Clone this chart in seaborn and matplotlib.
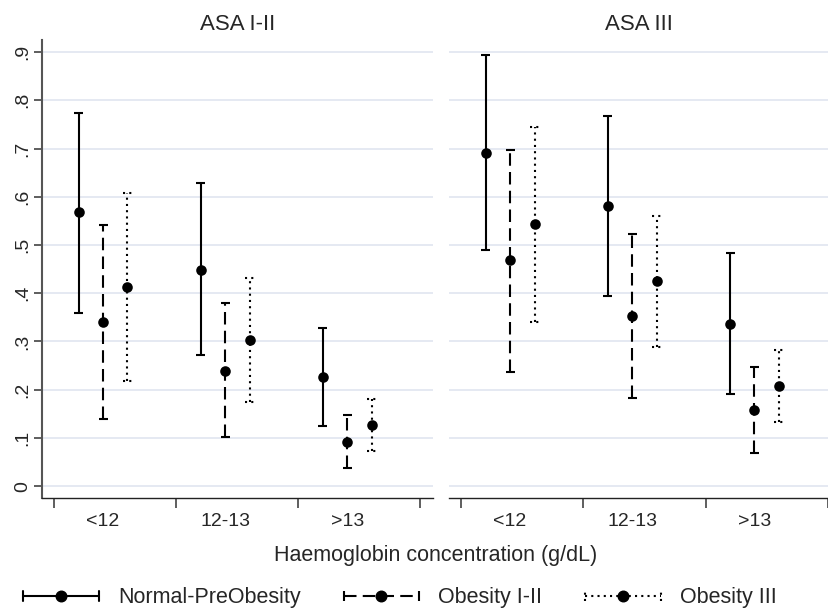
import numpy as np
import pandas as pd
import matplotlib
matplotlib.use("Agg")
import matplotlib.pyplot as plt
import seaborn as sns
from matplotlib.lines import Line2D
from matplotlib.legend_handler import HandlerBase

# Categorias y series
groups = ["<12", "12-13", ">13"]
series = ["Normal-PreObesity", "Obesity I-II", "Obesity III"]
panels = ["ASA I-II", "ASA III"]

# filas = series, columnas = grupos de hemoglobina
asa12_est = [[0.568, 0.449, 0.227], [0.341, 0.239, 0.091], [0.412, 0.302, 0.127]]
asa12_lo = [[0.359, 0.272, 0.124], [0.140, 0.101, 0.038], [0.218, 0.174, 0.073]]
asa12_hi = [[0.774, 0.628, 0.328], [0.541, 0.379, 0.147], [0.607, 0.431, 0.180]]

asa3_est = [[0.691, 0.581, 0.336], [0.469, 0.353, 0.158], [0.543, 0.425, 0.208]]
asa3_lo = [[0.489, 0.395, 0.191], [0.237, 0.182, 0.068], [0.341, 0.289, 0.133]]
asa3_hi = [[0.894, 0.767, 0.483], [0.697, 0.523, 0.247], [0.745, 0.560, 0.283]]

y_ticks = [0, 0.1, 0.2, 0.3, 0.4, 0.5, 0.6, 0.7, 0.8, 0.9]
y_tick_labels = ["0", ".1", ".2", ".3", ".4", ".5", ".6", ".7", ".8", ".9"]

# Estilo
sns.set_theme(style="white")
plt.rcParams["font.family"] = ["Liberation Sans", "DejaVu Sans"]

offsets = [-0.2, 0.0, 0.2]
line_styles = ["-", (0, (6, 3)), (0, (1, 2))]
cap_w = 0.037
lw = 1.5

rows = []
for panel, est, lo, hi in [(panels[0], asa12_est, asa12_lo, asa12_hi),
                           (panels[1], asa3_est, asa3_lo, asa3_hi)]:
    for si, s in enumerate(series):
        for gi, g in enumerate(groups):
            rows.append({"panel": panel, "serie": s, "grupo": g,
                         "x": gi + 1 + offsets[si],
                         "est": est[si][gi], "lo": lo[si][gi], "hi": hi[si][gi]})
df = pd.DataFrame(rows)

W, H = 829, 611
fig = plt.figure(figsize=(W / 100, H / 100), dpi=100)
bottom = 1 - 497.7 / H
height = (497.7 - 40) / H
ax1 = fig.add_axes([42 / W, bottom, 390.7 / W, height])
ax2 = fig.add_axes([449 / W, bottom, 380 / W, height], sharey=ax1)

for ax, panel in zip([ax1, ax2], panels):
    sub = df[df["panel"] == panel]
    for si, s in enumerate(series):
        d = sub[sub["serie"] == s]
        ls = line_styles[si]
        ax.vlines(d["x"], d["lo"], d["hi"], colors="black", linestyles=ls, lw=lw, zorder=2)
        ax.hlines(d["lo"], d["x"] - cap_w, d["x"] + cap_w, colors="black", linestyles=ls, lw=lw, zorder=2)
        ax.hlines(d["hi"], d["x"] - cap_w, d["x"] + cap_w, colors="black", linestyles=ls, lw=lw, zorder=2)
    sns.scatterplot(data=sub, x="x", y="est", color="black", s=58, edgecolor="black",
                    linewidth=0, legend=False, ax=ax, zorder=3)

    ax.set_xlim(0.5, 3.7 if ax is ax1 else 3.61)
    ax.set_ylim(-0.024, 0.925)
    ax.set_xticks([0.6, 1.6, 2.6, 3.6])
    ax.set_xticklabels([])
    ax.set_xticks([1, 2, 3], minor=True)
    ax.set_xticklabels(groups, minor=True, fontsize=14)
    ax.tick_params(axis="x", which="major", direction="out", length=7.5, width=1.1,
                   color="#333333", bottom=True)
    ax.tick_params(axis="x", which="minor", length=0, pad=11, bottom=True)
    ax.set_xlabel("")
    ax.set_ylabel("")
    ax.set_title(panel, fontsize=16, pad=7)
    ax.yaxis.grid(True, color="#e3e7f1", lw=1.3)
    ax.xaxis.grid(False)
    for side in ["top", "right", "left"]:
        ax.spines[side].set_visible(False)
    ax.spines["bottom"].set_color("#222222")
    ax.spines["bottom"].set_linewidth(1.0)

ax1.spines["left"].set_visible(True)
ax1.spines["left"].set_color("#555555")
ax1.spines["left"].set_linewidth(1.5)
ax1.set_yticks(y_ticks)
ax1.set_yticklabels(y_tick_labels, rotation=90, va="center", fontsize=14)
ax1.tick_params(axis="y", direction="out", length=6, width=1.1, color="#333333", left=True, pad=2)
ax2.tick_params(axis="y", left=False, labelleft=False)

fig.text(435.5 / W, 1 - 555 / H, "Haemoglobin concentration (g/dL)",
         ha="center", va="center", fontsize=15.5)


class CappedHandler(HandlerBase):
    def __init__(self, ls):
        super().__init__()
        self.ls = ls

    def create_artists(self, legend, orig_handle, xdescent, ydescent, width, height, fontsize, trans):
        y = height / 2 - ydescent
        x0, x1 = -xdescent, width - xdescent
        cap = 3.6
        arts = [Line2D([x0, x1], [y, y], color="black", lw=lw, ls=self.ls),
                Line2D([x0, x0], [y - cap, y + cap], color="black", lw=lw, ls=self.ls),
                Line2D([x1, x1], [y - cap, y + cap], color="black", lw=lw, ls=self.ls),
                Line2D([(x0 + x1) / 2], [y], marker="o", ms=7.6, color="black", ls="none")]
        for a in arts:
            a.set_transform(trans)
        return arts


handles = [Line2D([], [], color="black") for _ in series]
fig.legend(handles, series, handler_map={h: CappedHandler(ls) for h, ls in zip(handles, line_styles)},
           loc="center", bbox_to_anchor=(400 / W, 1 - 598 / H), ncol=3, frameon=False,
           fontsize=15.5, handlelength=3.5, handletextpad=0.9, columnspacing=2.0)

fig.savefig("out.png", dpi=100)
